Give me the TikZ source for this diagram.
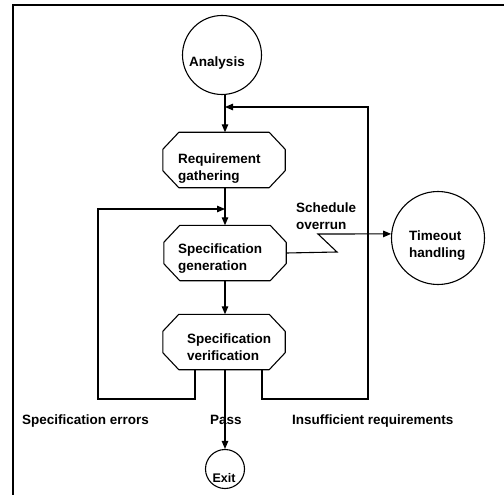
\documentclass[tikz,border=0pt]{standalone}
\usepackage{fontspec}
\setmainfont{Liberation Sans}
\usetikzlibrary{arrows.meta}
\tikzset{
  x=1pt, y=-1pt,
  every node/.style={font=\bfseries\fontsize{13.5}{17}\selectfont},
  line/.style={line width=1.1pt},
  arr/.style={line, -{Triangle[length=8pt,width=6.5pt]}},
  proc/.style={rectangle, minimum width=122pt, minimum height=55pt, inner sep=0pt},
  term/.style={circle, draw, line width=1.1pt, inner sep=0pt},
  txt/.style={inner sep=0pt, align=left, anchor=base west}
}
% octagonal outline around a process node
\newcommand\octagon[1]{%
  \draw[line, line join=round]
    ([xshift=16pt]#1.north west) -- ([xshift=-16pt]#1.north east)
    -- ([yshift=-17pt]#1.north east) -- ([yshift=17pt]#1.south east)
    -- ([xshift=-16pt]#1.south east) -- ([xshift=16pt]#1.south west)
    -- ([yshift=17pt]#1.south west) -- ([yshift=-17pt]#1.north west) -- cycle;}
\begin{document}
\begin{tikzpicture}
\useasboundingbox (0,0) rectangle (504,495);
% page frame
\draw[line width=1.6pt] (13,495) -- (13,5) -- (504,5);

% shapes
\node[term, minimum size=79pt] (analysis) at (222,55) {};
\node[proc] (rg) at (224,160) {};
\node[proc] (sg) at (225,253) {};
\node[proc] (sv) at (224,342) {};
\node[term, minimum size=93pt] (timeout) at (438,238) {};
\node[term, minimum size=39pt] (exit) at (225,469) {};
\octagon{rg}
\octagon{sg}
\octagon{sv}

% texts (two-line texts are placed by the baseline of their last line)
\node[txt, anchor=base] (analysistxt) at (217,67) {Analysis};
\node[txt] (rgtxt) at (178,180) {Requirement\\gathering};
\node[txt] (sgtxt) at (178,270) {Specification\\generation};
\node[txt] (svtxt) at (187,360) {Specification\\verification};
\node[txt] (timeouttxt) at (409,257) {Timeout\\handling};
\node[txt, anchor=base, font=\bfseries\fontsize{12.5}{15}\selectfont] (exittxt) at (224,482) {Exit};

% labels
\node[txt] (sched) at (296,229) {Schedule\\overrun};
\node[txt] (errs) at (22,424) {Specification errors};
\node[txt] (pass) at (210,424) {Pass};
\node[txt] (insuff) at (292,424) {Insufficient requirements};

% junction points on the main line
\coordinate (jtop) at (225,107);
\coordinate (jmid) at (225,209);

% main flow
\draw[arr] (analysis.south -| 225,0) -- (rg.north -| 225,0);
\draw[arr] (rg.south -| 225,0) -- (sg.north -| 225,0);
\draw[arr] (sg.south -| 225,0) -- (sv.north -| 225,0);
\draw[arr] (sv.south -| 225,0) -- (exit.north);

% schedule overrun
\draw[arr] (sg.east) -- (337,252) -- (318,234) -- (timeout.175);

% specification errors loop
\draw[arr] (sv.south -| 195,0) -- (195,399) -- (98,399) -- (98,209) -- (jmid);

% insufficient requirements loop
\draw[arr] (sv.south -| 262,0) -- (262,399) -- (368,399) -- (368,107) -- (jtop);
\end{tikzpicture}
\end{document}
